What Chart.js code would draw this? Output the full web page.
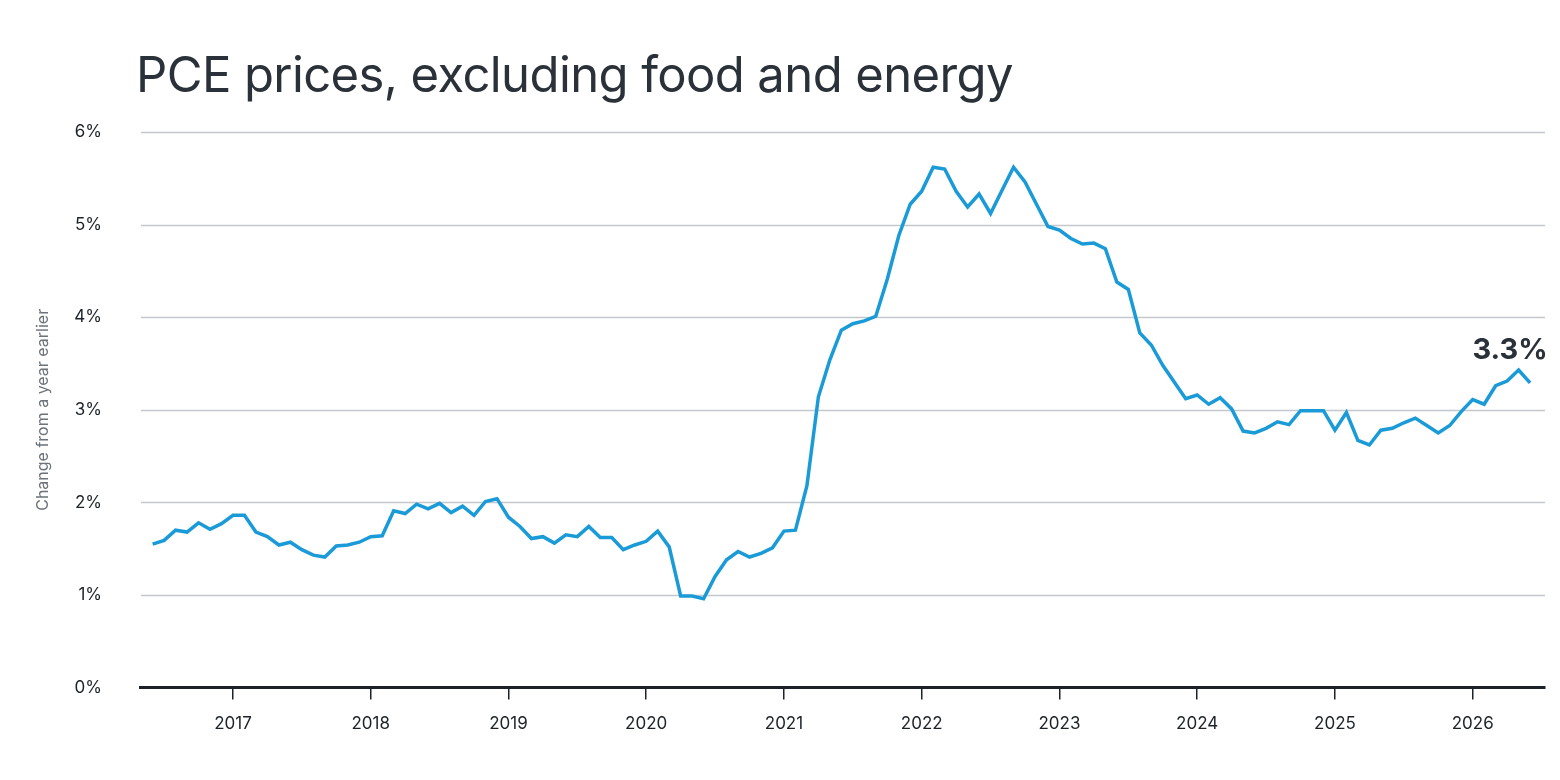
<!DOCTYPE html>
<html><head><meta charset="utf-8">
<script src="https://cdn.jsdelivr.net/npm/chart.js@4/dist/chart.umd.min.js"></script>
<style>
html,body{margin:0;padding:0;background:#fff;width:1560px;height:780px;overflow:hidden;font-family:"Inter","Liberation Sans",sans-serif}
#t{position:absolute;left:136px;top:45px;font-size:49px;color:#2a3139;font-weight:400;letter-spacing:-0.6px;margin:0}
#w{position:absolute;left:0;top:0;width:1560px;height:780px}
</style></head><body>
<div id="w"><canvas id="c"></canvas></div>
<h1 id="t">PCE prices, excluding food and energy</h1>
<script>
const values = [
1.55,1.59,1.70,1.68,1.78,1.71,1.77,1.86,1.86,1.68,1.63,1.54,1.57,1.49,1.43,1.41,1.53,1.54,1.57,1.63,1.64,1.91,1.88,1.98,1.93,1.99,1.89,1.96,1.86,2.01,2.04,1.84,1.74,1.61,1.63,1.56,1.65,1.63,1.74,1.62,1.62,1.49,1.54,1.58,1.69,
1.52,0.99,0.99,0.96,1.20,1.38,1.47,1.41,1.45,1.51,1.69,1.70,2.18,3.14,3.54,3.86,3.93,3.96,4.01,4.41,4.88,5.22,5.36,5.62,5.60,5.36,5.19,5.33,5.12,5.37,5.62,5.46,5.22,4.98,4.94,4.85,4.79,4.80,
4.74,4.38,4.30,3.83,3.70,3.48,3.30,3.12,3.16,3.06,3.13,3.01,2.77,2.75,2.80,2.87,2.84,2.99,2.99,2.99,2.78,2.97,2.67,2.62,2.78,2.80,2.86,2.91,2.83,2.75,2.83,2.98,3.11,3.06,3.26,3.31,3.43,3.29];
const yearTicks = [2017,2018,2019,2020,2021,2022,2023,2024,2025,2026];
const yTicks = [0,1,2,3,4,5,6];
const lastLabel = "3.3%";
const firstYear=2016, firstMonth=6;
const pts = values.map((v,i)=>({x:i,y:v}));
const janIndex = y => (y-firstYear)*12 + (1-firstMonth);

const gridPlugin = {id:'grd',beforeDatasetsDraw(ch){
  const xs=ch.scales.x, ys=ch.scales.y, c=ch.ctx; c.save();
  c.strokeStyle='#c4c8cc'; c.lineWidth=1.5;
  yTicks.forEach(v=>{ if(v===0) return; const y=Math.round(ys.getPixelForValue(v))+0.5;
    c.beginPath(); c.moveTo(xs.left+1,y); c.lineTo(xs.right,y); c.stroke();});
  c.restore();}};
const labelPlugin = {id:'lbl',afterDatasetsDraw(ch){
  const m=ch.getDatasetMeta(0).data; const p=m[m.length-1];
  const c=ch.ctx; c.save(); c.font='bold 29px "Inter","Liberation Sans",sans-serif';
  c.fillStyle='#2a3139'; c.textAlign='center'; c.textBaseline='alphabetic';
  c.fillText(lastLabel,p.x-20,p.y-24); c.restore();}};

new Chart(document.getElementById('c'),{
 type:'line',
 data:{datasets:[{data:pts,borderColor:'#1a9bd7',borderWidth:3.5,pointRadius:0,tension:0,fill:false}]},
 options:{responsive:true,maintainAspectRatio:false,animation:false,
  layout:{padding:{top:132,right:15,left:30,bottom:32}},
  plugins:{legend:{display:false},tooltip:{enabled:false}},
  scales:{
   x:{type:'linear',min:-1.1,max:121.3,
     afterBuildTicks(ax){ax.ticks=yearTicks.map(y=>({value:janIndex(y)}));},
     ticks:{autoSkip:false,maxRotation:0,padding:14,color:'#1d2228',font:{size:17,family:'"Inter","Liberation Sans",sans-serif'},
       callback(v){return String(firstYear+Math.floor((v+firstMonth-1)/12));}},
     grid:{drawOnChartArea:false,drawTicks:true,tickLength:12,color:'#1d2228',lineWidth:1.5},
     border:{display:true,color:'#1d2228',width:3}},
   y:{min:0,max:6,
     afterBuildTicks(ax){ax.ticks=yTicks.map(v=>({value:v}));},
     afterFit(ax){ax.width=110;},
     ticks:{padding:30,color:'#1d2228',font:{size:17,family:'"Inter","Liberation Sans",sans-serif'},callback:v=>v+'%'},
     grid:{display:false},
     border:{display:false},
     title:{display:true,text:'Change from a year earlier',color:'#6d737a',font:{size:16,family:'"Inter","Liberation Sans",sans-serif'},padding:{bottom:0}}}
  }},
 plugins:[gridPlugin,labelPlugin]
});
</script></body></html>
